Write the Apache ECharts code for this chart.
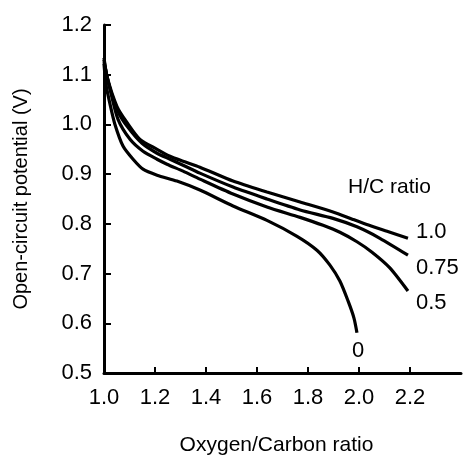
<!DOCTYPE html>
<html>
<head>
<meta charset="utf-8">
<script src="https://cdn.jsdelivr.net/npm/echarts@6/dist/echarts.min.js"></script>
<style>
html,body{margin:0;padding:0;background:#fff;}
#chart{width:465px;height:461px;}
</style>
</head>
<body>
<div id="chart"></div>
<script>
// H/C ratio = 1.0
var hc100 = [[1.0,1.134],[1.012,1.096],[1.051,1.036],[1.090,1.004],[1.141,0.970],[1.208,0.950],[1.259,0.936],[1.310,0.926],[1.376,0.914],[1.506,0.886],[1.639,0.864],[1.769,0.844],[1.898,0.824],[1.976,0.809],[2.040,0.797],[2.110,0.785],[2.192,0.771]];
// H/C ratio = 0.75
var hc075 = [[1.0,1.13],[1.016,1.086],[1.055,1.026],[1.094,0.994],[1.149,0.962],[1.208,0.942],[1.259,0.930],[1.310,0.918],[1.376,0.902],[1.506,0.874],[1.639,0.850],[1.769,0.828],[1.898,0.811],[1.992,0.794],[2.082,0.771],[2.192,0.737]];
// H/C ratio = 0.5
var hc050 = [[1.0,1.125],[1.024,1.070],[1.055,1.010],[1.102,0.970],[1.153,0.946],[1.208,0.930],[1.247,0.920],[1.310,0.906],[1.376,0.890],[1.506,0.860],[1.639,0.834],[1.769,0.813],[1.859,0.797],[1.925,0.783],[1.992,0.764],[2.051,0.743],[2.120,0.712],[2.192,0.665]];
// H/C ratio = 0
var hc000 = [[1.0,1.122],[1.008,1.08],[1.024,1.04],[1.043,1.0],[1.075,0.956],[1.114,0.930],[1.153,0.910],[1.208,0.898],[1.286,0.886],[1.376,0.868],[1.506,0.836],[1.639,0.807],[1.757,0.775],[1.835,0.747],[1.886,0.717],[1.925,0.685],[1.957,0.645],[1.980,0.611],[1.992,0.581]];

var seriesNames = ['1.0','0.75','0.5','0'];
var xTicks = [1.0,1.2,1.4,1.6,1.8,2.0,2.2];
var yTicks = [0.5,0.6,0.7,0.8,0.9,1.0,1.1,1.2];
var xLabels = ['1.0','1.2','1.4','1.6','1.8','2.0','2.2'];
var yLabels = ['0.5','0.6','0.7','0.8','0.9','1.0','1.1','1.2'];

var FONT = 'Liberation Sans, Arial, Helvetica, sans-serif';
var chart = echarts.init(document.getElementById('chart'));

function mkSeries(name, data, labelOpt) {
  return {
    name: name, type: 'line', data: data, smooth: 0.25, symbol: 'none',
    lineStyle: {color: '#000', width: 3.2},
    endLabel: Object.assign({show: true, formatter: name, color: '#000', fontSize: 22, fontFamily: FONT}, labelOpt),
    z: 5
  };
}

chart.setOption({
  animation: false,
  backgroundColor: '#fff',
  title: {
    text: 'H/C ratio', left: 343, top: 172,
    textStyle: {fontSize: 21, fontWeight: 'normal', color: '#000', fontFamily: FONT}
  },
  grid: {left: 104, right: 4, top: 25, bottom: 86, containLabel: false},
  xAxis: {
    type: 'value', min: 1.0, max: 2.4, interval: 0.2,
    name: 'Oxygen/Carbon ratio', nameLocation: 'middle', nameGap: 62,
    nameTextStyle: {fontSize: 21, color: '#000', fontFamily: FONT, padding: [0, 12, 0, 0]},
    axisLine: {lineStyle: {color: '#000', width: 3}},
    axisTick: {inside: true, length: 6, lineStyle: {color: '#000', width: 2}, customValues: xTicks},
    axisLabel: {customValues: xTicks, fontSize: 22, color: '#000', fontFamily: FONT, margin: 14,
      formatter: function(v){ return xLabels[xTicks.indexOf(Math.round(v*10)/10)] || ''; }},
    splitLine: {show: false}
  },
  yAxis: {
    type: 'value', min: 0.5, max: 1.2, interval: 0.1,
    name: 'Open-circuit potential (V)', nameLocation: 'middle', nameGap: 73, nameRotate: 90,
    nameTextStyle: {fontSize: 20, color: '#000', fontFamily: FONT},
    axisLine: {show: true, lineStyle: {color: '#000', width: 3}},
    axisTick: {show: true, inside: true, length: 7, lineStyle: {color: '#000', width: 2}, customValues: yTicks},
    axisLabel: {customValues: yTicks, fontSize: 22, color: '#000', fontFamily: FONT, margin: 12,
      formatter: function(v){ return yLabels[yTicks.indexOf(Math.round(v*10)/10)] || ''; }},
    splitLine: {show: false}
  },
  series: [
    mkSeries(seriesNames[0], hc100, {distance: 8, offset: [0, -6]}),
    mkSeries(seriesNames[1], hc075, {distance: 8, offset: [0, 13]}),
    mkSeries(seriesNames[2], hc050, {distance: 8, offset: [0, 12]}),
    mkSeries(seriesNames[3], hc000, {distance: 0, offset: [-5, 18]})
  ]
});
</script>
</body>
</html>
